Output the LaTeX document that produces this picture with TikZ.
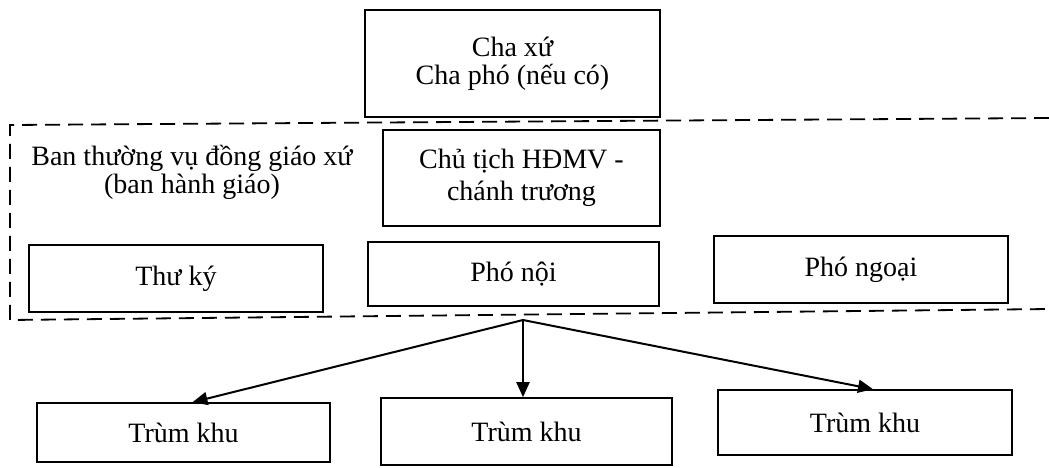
\documentclass[tikz,border=0pt]{standalone}
\usepackage{fontspec}
\setmainfont{Liberation Serif}
\usetikzlibrary{arrows.meta}

\begin{document}
\begin{tikzpicture}[x=0.5pt,y=-0.5pt,>={Triangle[length=7.5pt,width=6.5pt]},
    main node/.style={draw,line width=0.8pt,align=center,inner sep=2pt,font=\fontsize{14}{14}\selectfont},
    group line/.style={dash pattern=on 7.5pt off 4pt,line width=0.9pt}]
    \useasboundingbox (0,0) rectangle (1049,467);

    \node[main node,minimum width=147.5pt,minimum height=53.5pt] (chaxu) at (512.5,63.5) {Cha xứ\\Cha phó (nếu có)};
    \node[main node,minimum width=138.5pt,minimum height=48pt] (chutich) at (521.5,178) {Chủ tịch HĐMV -\\[2pt]chánh trương};
    \node[align=center,font=\fontsize{14}{14}\selectfont] (ban) at (192,172) {Ban thường vụ đồng giáo xứ\\(ban hành giáo)};
    \node[main node,minimum width=147pt,minimum height=33.5pt] (thuky) at (176,278.5) {Thư ký};
    \node[main node,minimum width=145.5pt,minimum height=32pt] (phonoi) at (513.5,274) {Phó nội};
    \node[main node,minimum width=147pt,minimum height=33.5pt] (phongoai) at (861,269.5) {Phó ngoại};

    \node[main node,minimum width=146.5pt,minimum height=29.5pt] (trum1) at (183.5,432.5) {Trùm khu};
    \node[main node,minimum width=145.5pt,minimum height=33.5pt] (trum2) at (526.5,431.5) {Trùm khu};
    \node[main node,minimum width=147pt,minimum height=32.5pt] (trum3) at (865,422.5) {Trùm khu};

    % dashed group (open on the right)
    \draw[group line] (1049,118) -- (10,125) -- (10,320) -- (1049,309);

    \coordinate (apex) at (523,320);
    \path[->,line width=1pt]
    (apex) edge ([xshift=4.5pt]trum1.north)
    (apex) edge (apex |- trum2.north)
    (apex) edge ([xshift=4pt]trum3.north);
\end{tikzpicture}
\end{document}
